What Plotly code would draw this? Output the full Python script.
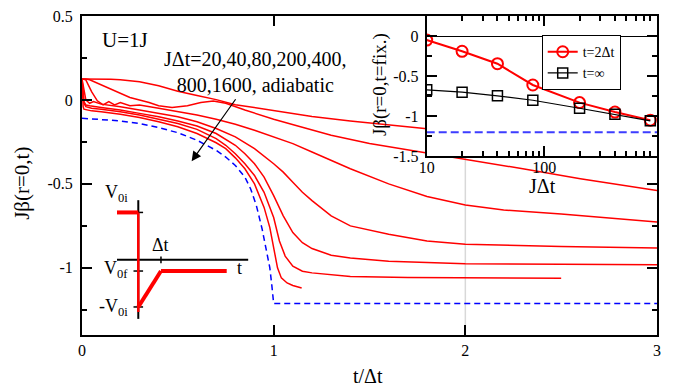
import plotly.graph_objects as go

# ---------------- main panel data: Jβ(r=0,t) vs t/Δt ----------------
ramp_labels = ["JΔt=20", "JΔt=40", "JΔt=80", "JΔt=200", "JΔt=400", "JΔt=800", "JΔt=1600"]

r20_x = [0, 0.05, 0.1, 0.15, 0.2, 0.3, 0.4, 0.5, 0.6, 0.7, 0.8, 0.9, 1.0, 1.2, 1.4, 1.6, 1.8, 2.0, 2.4, 2.8, 3.0]
r20_y = [0.125, 0.125, 0.125, 0.124, 0.12, 0.108, 0.085, 0.052, 0.026, 0.002, -0.028, -0.045, -0.062, -0.098,
         -0.125, -0.15, -0.171, -0.19, -0.23, -0.27, -0.29]

r40_x = [0, 0.02, 0.04, 0.1, 0.15, 0.2, 0.25, 0.3, 0.35, 0.4, 0.47, 0.55, 0.62, 0.685, 0.75, 0.85, 1.0, 1.14,
         1.3, 1.5, 1.8, 2.0, 2.3, 2.6, 3.0]
r40_y = [0.125, 0.125, 0.12, 0.09, 0.065, 0.04, 0.015, 0.0, -0.015, -0.035, -0.045, -0.035, -0.015, -0.006,
         -0.02, -0.06, -0.115, -0.16, -0.21, -0.26, -0.316, -0.355, -0.41, -0.47, -0.54]

r80_x = [0, 0.02, 0.05, 0.08, 0.11, 0.14, 0.17, 0.2, 0.25, 0.3, 0.4, 0.5, 0.6, 0.7, 0.8, 0.9, 1.0, 1.1, 1.2,
         1.4, 1.6, 1.8, 2.0, 2.2, 2.5, 2.8, 3.0]
r80_y = [0.125, 0.12, 0.05, -0.005, -0.03, -0.01, -0.03, -0.015, -0.035, -0.03, -0.05, -0.07, -0.09, -0.115,
         -0.145, -0.18, -0.22, -0.26, -0.31, -0.41, -0.50, -0.575, -0.626, -0.655, -0.68, -0.71, -0.727]

r200_x = [0, 0.01, 0.02, 0.04, 0.06, 0.1, 0.2, 0.3, 0.4, 0.5, 0.6, 0.7, 0.8, 0.9, 1.0, 1.05, 1.1, 1.15, 1.2,
          1.3, 1.4, 1.6, 1.8, 2.0, 2.5, 3.0]
r200_y = [0.125, 0.06, 0.0, -0.02, -0.01, -0.025, -0.04, -0.06, -0.08, -0.10, -0.13, -0.17, -0.22, -0.29,
          -0.38, -0.43, -0.49, -0.55, -0.60, -0.69, -0.75, -0.80, -0.84, -0.859, -0.873, -0.882]

r400_x = [0, 0.005, 0.01, 0.02, 0.04, 0.1, 0.2, 0.3, 0.4, 0.5, 0.6, 0.7, 0.8, 0.85, 0.9, 0.95, 1.0, 1.05,
          1.1, 1.15, 1.2, 1.3, 1.4, 1.6, 2.0, 2.5, 3.0]
r400_y = [0.125, 0.05, -0.01, -0.03, -0.035, -0.045, -0.06, -0.08, -0.10, -0.125, -0.155, -0.20, -0.27,
          -0.32, -0.38, -0.46, -0.57, -0.69, -0.79, -0.85, -0.885, -0.925, -0.942, -0.96, -0.975, -0.979, -0.981]

r800_x = [0, 0.005, 0.01, 0.02, 0.05, 0.1, 0.2, 0.3, 0.4, 0.5, 0.6, 0.7, 0.75, 0.8, 0.85, 0.9, 0.95, 1.0,
          1.03, 1.06, 1.1, 1.15, 1.2, 1.3, 1.4, 1.7, 2.0, 2.5]
r800_y = [0.125, 0.03, -0.02, -0.04, -0.05, -0.055, -0.07, -0.09, -0.115, -0.14, -0.175, -0.23, -0.27,
          -0.32, -0.38, -0.45, -0.55, -0.70, -0.84, -0.93, -0.99, -1.02, -1.03, -1.042, -1.052, -1.058,
          -1.06, -1.062]

r1600_x = [0, 0.003, 0.006, 0.01, 0.05, 0.1, 0.2, 0.3, 0.4, 0.5, 0.6, 0.7, 0.75, 0.8, 0.85, 0.9, 0.95,
           0.98, 1.0, 1.02, 1.04, 1.07, 1.1, 1.146]
r1600_y = [0.125, 0.02, -0.04, -0.055, -0.065, -0.07, -0.085, -0.105, -0.13, -0.16, -0.20, -0.255, -0.29,
           -0.345, -0.41, -0.50, -0.64, -0.76, -0.87, -1.0, -1.06, -1.09, -1.105, -1.12]

adiab_x = [0, 0.1, 0.2, 0.3, 0.4, 0.5, 0.6, 0.7, 0.75, 0.8, 0.85, 0.88, 0.91, 0.94, 0.96, 0.98, 0.99,
           1.0, 3.0]
adiab_y = [-0.109, -0.115, -0.125, -0.14, -0.165, -0.195, -0.24, -0.30, -0.34, -0.39, -0.46, -0.53, -0.63,
           -0.77, -0.89, -1.0, -1.1, -1.213, -1.213]

ramp_x = [r20_x, r40_x, r80_x, r200_x, r400_x, r800_x, r1600_x]
ramp_y = [r20_y, r40_y, r80_y, r200_y, r400_y, r800_y, r1600_y]

# ---------------- inset data: Jβ(r=0,t=fix.) vs JΔt ----------------
inset_jdt = [10, 20, 40, 80, 200, 400, 800]
inset_t2 = [-0.05, -0.19, -0.345, -0.61, -0.83, -0.948, -1.049]
inset_tinf = [-0.67, -0.70, -0.745, -0.80, -0.90, -0.976, -1.057]
inset_adiab_x = [10, 920]
inset_adiab_y = [-1.2, -1.2]

# tick labels
main_xticks = [0, 1, 2, 3]
main_yticks = [-1, -0.5, 0, 0.5]
main_yticktext = ["-1", "-0.5", "0", "0.5"]
inset_xticks = [10, 100]
inset_xticktext = ["10", "100"]
inset_yticks = [0, -0.5, -1, -1.5]
inset_yticktext = ["0", "-0.5", "-1", "-1.5"]

FONT = "Liberation Serif"
fig = go.Figure()

for xs, ys, name in zip(ramp_x, ramp_y, ramp_labels):
    fig.add_trace(go.Scatter(x=xs, y=ys, mode="lines", name=name, showlegend=False,
                             line=dict(color="#ff0000", width=1.5), xaxis="x", yaxis="y"))
fig.add_trace(go.Scatter(x=adiab_x, y=adiab_y, mode="lines", name="adiabatic", showlegend=False,
                         line=dict(color="#0000ff", width=1.5, dash="6px,4px"), xaxis="x", yaxis="y"))

# inset traces
fig.add_trace(go.Scatter(x=inset_adiab_x, y=inset_adiab_y, mode="lines", showlegend=False,
                         line=dict(color="#3d3dff", width=2, dash="8px,4px"), xaxis="x2", yaxis="y2"))
fig.add_trace(go.Scatter(x=inset_jdt, y=inset_t2, mode="lines+markers", name="t=2Δt",
                         line=dict(color="#ff0000", width=2),
                         marker=dict(symbol="circle-open", size=11, color="#ff0000", line=dict(width=2)),
                         xaxis="x2", yaxis="y2"))
fig.add_trace(go.Scatter(x=inset_jdt, y=inset_tinf, mode="lines+markers", name="t=∞",
                         line=dict(color="black", width=1.2),
                         marker=dict(symbol="square-open", size=10, color="black", line=dict(width=1.5)),
                         xaxis="x2", yaxis="y2"))

tickfont = dict(family=FONT, size=16, color="black")
common = dict(showline=True, linecolor="black", linewidth=2, mirror="ticks", ticks="inside",
              tickcolor="black", tickwidth=1.5, showgrid=False, tickfont=tickfont)

inset_x_minor = [20, 30, 40, 50, 60, 70, 80, 90, 200, 300, 400, 500, 600, 700, 800, 900]

fig.update_layout(
    width=680, height=391,
    margin=dict(l=82, r=23, t=8, b=56),
    paper_bgcolor="white", plot_bgcolor="white",
    font=dict(family=FONT, color="black"),
    xaxis=dict(domain=[0, 1], range=[0, 3], tickvals=main_xticks, ticklen=10, anchor="y",
               ticklabelstandoff=0, zeroline=False, **common),
    yaxis=dict(domain=[0, 1], range=[-1.4, 0.5], tickvals=main_yticks, ticktext=main_yticktext,
               ticklen=10, anchor="x", ticklabelstandoff=4, zeroline=False,
               minor=dict(tickvals=[-1.25, -0.75, -0.25, 0.25], ticks="inside", ticklen=5,
                          tickcolor="black", tickwidth=1.5), **common),
    xaxis2=dict(domain=[0.5995, 1], type="log", range=[1, 2.96], tickvals=inset_xticks,
                ticktext=inset_xticktext, ticklen=10, anchor="y2", ticklabelstandoff=-5, zeroline=False,
                minor=dict(tickvals=inset_x_minor, ticks="inside", ticklen=5, tickcolor="black",
                           tickwidth=1.5), **common),
    yaxis2=dict(domain=[0.56, 1], range=[-1.5, 0.25], tickvals=inset_yticks, ticktext=inset_yticktext,
                ticklen=10, anchor="x2", ticklabelstandoff=3,
                minor=dict(tickvals=[-1.25, -0.75, -0.25], ticks="inside", ticklen=5,
                           tickcolor="black", tickwidth=1.5),
                zeroline=True, zerolinecolor="black", zerolinewidth=1, **common),
    legend=dict(x=0.7995, y=0.94, xanchor="left", yanchor="top", bgcolor="white",
                bordercolor="black", borderwidth=1, font=dict(family=FONT, size=14),
                tracegroupgap=0, itemwidth=30),
)

# schematic of the ramp (decoration, drawn in main-axis coordinates)
sx_axis = 0.2937
sx_left, sx_right, sx_dt, sx_end = 0.1826, 0.867, 0.412, 0.755
sy_top, sy_bot, sy_zero = -0.597, -1.304, -0.952
sy_v0i, sy_v0f, sy_mv0i = -0.670, -1.019, -1.233

shapes = [
    dict(type="line", xref="x", yref="paper", x0=2, x1=2, y0=0, y1=0.56,
         line=dict(color="#d8d8d8", width=1.5), layer="below"),
    dict(type="line", xref="x", yref="y", x0=sx_axis, x1=sx_axis, y0=sy_top, y1=sy_bot,
         line=dict(color="black", width=2)),
    dict(type="line", xref="x", yref="y", x0=sx_left, x1=sx_right, y0=sy_zero, y1=sy_zero,
         line=dict(color="black", width=2)),
]
for yy in (sy_v0i, sy_v0f, sy_mv0i):
    shapes.append(dict(type="line", xref="x", yref="y", x0=sx_axis - 0.025, x1=sx_axis + 0.025,
                       y0=yy, y1=yy, line=dict(color="black", width=1.5)))
shapes.append(dict(type="line", xref="x", yref="y", x0=sx_dt, x1=sx_dt, y0=sy_zero - 0.02,
                   y1=sy_zero + 0.02, line=dict(color="black", width=1.5)))
shapes += [
    dict(type="line", xref="x", yref="y", x0=sx_left, x1=sx_axis, y0=sy_v0i, y1=sy_v0i,
         line=dict(color="#ff0000", width=4)),
    dict(type="line", xref="x", yref="y", x0=sx_axis, x1=sx_axis, y0=sy_v0i, y1=sy_mv0i - 0.03,
         line=dict(color="#ff0000", width=2.5)),
    dict(type="line", xref="x", yref="y", x0=sx_axis, x1=sx_dt, y0=sy_mv0i, y1=sy_v0f,
         line=dict(color="#ff0000", width=4)),
    dict(type="line", xref="x", yref="y", x0=sx_dt, x1=sx_end, y0=sy_v0f, y1=sy_v0f,
         line=dict(color="#ff0000", width=4)),
]
fig.update_layout(shapes=shapes)

ann = []
def txt(x, y, s, size=17, xref="x", yref="y", xa="center", ya="middle", angle=0):
    ann.append(dict(x=x, y=y, xref=xref, yref=yref, text=s, showarrow=False, xanchor=xa, yanchor=ya,
                    textangle=angle, font=dict(family=FONT, size=size, color="black")))

txt(0.094, 0.355, "U=1J", size=21, xa="left")
txt(0.902, 0.165, "JΔt=20,40,80,200,400,<br>800,1600, adiabatic", size=20)
ann.append(dict(x=0.572, y=-0.365, xref="x", yref="y", ax=0.807, ay=0.013, axref="x", ayref="y",
                text="", showarrow=True, arrowhead=2, arrowsize=1.6, arrowwidth=1.2, arrowcolor="black"))
txt(0.25, -0.56, "V<sub>0i</sub>", size=18, xa="right")
txt(0.25, -1.01, "V<sub>0f</sub>", size=18, xa="right")
txt(0.25, -1.235, "-V<sub>0i</sub>", size=18, xa="right")
txt(0.412, -0.866, "Δt", size=18)
txt(0.824, -1.0, "t", size=18)
# axis titles
txt(0.497, -0.128, "t/Δt", size=20, xref="paper", yref="paper")
txt(-0.1043, 0.474, "Jβ(r=0,t)", size=21, xref="paper", yref="paper", angle=-90)
txt(0.8017, 0.468, "JΔt", size=20, xref="paper", yref="paper")
txt(0.518, 0.786, "Jβ(r=0,t=fix.)", size=19, xref="paper", yref="paper", angle=-90)
fig.update_layout(annotations=ann)

fig.write_html("out.html")
